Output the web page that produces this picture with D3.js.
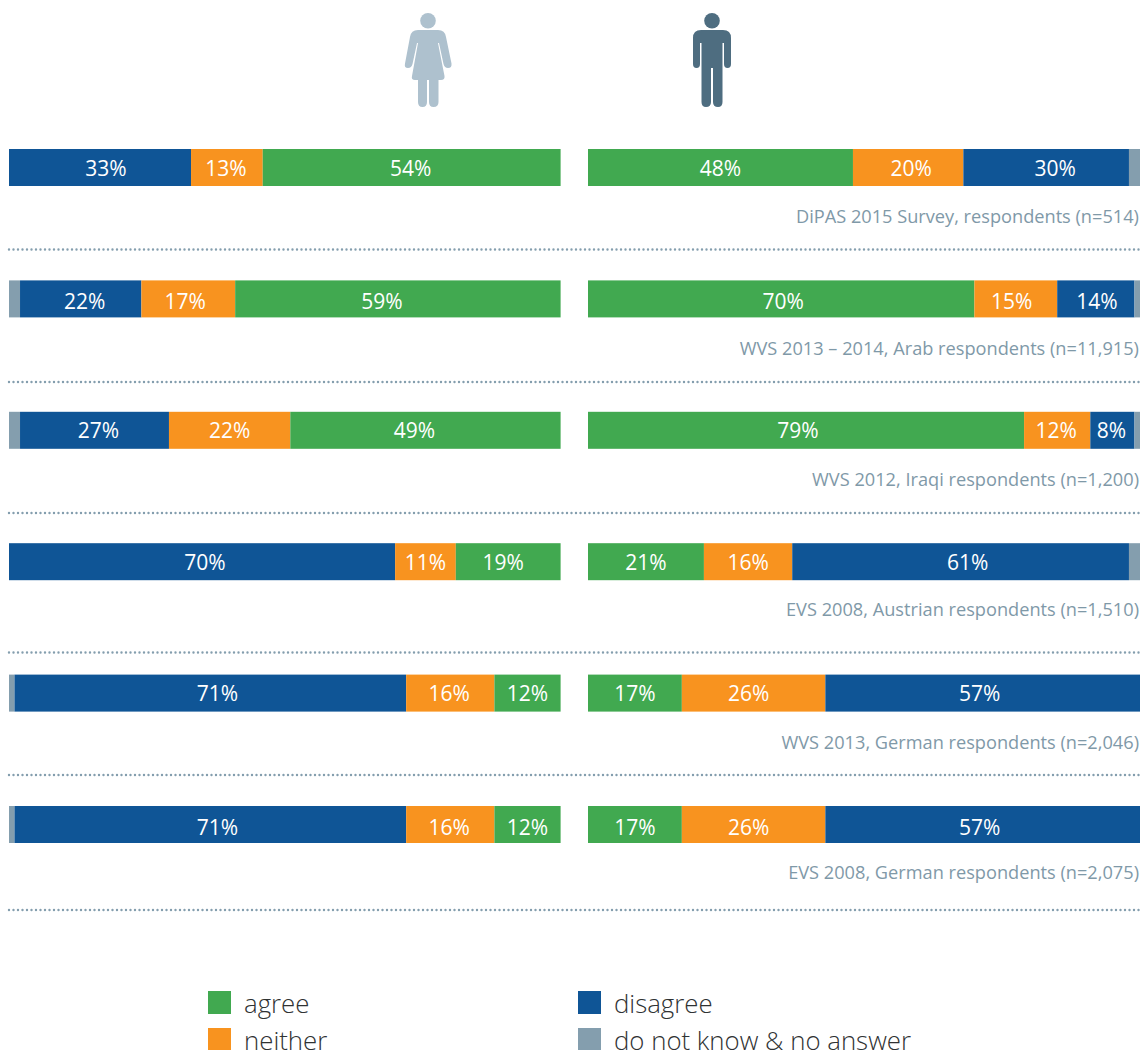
<!DOCTYPE html>
<html><head><meta charset="utf-8">
<script src="https://cdn.jsdelivr.net/npm/d3@7"></script>
<style>html,body{margin:0;padding:0;background:#fff}svg{display:block}text{font-family:"Open Sans","Noto Sans",sans-serif}</style>
</head><body><svg id="c" width="1140" height="1050"></svg>
<script>
const sources=["DiPAS 2015 Survey, respondents (n=514)","WVS 2013 – 2014, Arab respondents (n=11,915)","WVS 2012, Iraqi respondents (n=1,200)","EVS 2008, Austrian respondents (n=1,510)","WVS 2013, German respondents (n=2,046)","EVS 2008, German respondents (n=2,075)"];
const categories=["agree","neither","disagree","dk"];
const legendLabels=["agree","neither","disagree","do not know & no answer"];
const womenAgree=[54,59,49,19,12,12];
const womenNeither=[13,17,22,11,16,16];
const womenDisagree=[33,22,27,70,71,71];
const womenDk=[0,2,2,0,1,1];
const menAgree=[48,70,79,21,17,17];
const menNeither=[20,15,12,16,26,26];
const menDisagree=[30,14,8,61,57,57];
const menDk=[2,1,1,2,0,0];
const colors={agree:"#41a950",neither:"#f8931f",disagree:"#0f5596",dk:"#849eae"};

const svg=d3.select("#c");
const y=d3.scalePoint().domain(d3.range(6)).range([149,806]);
const xW=d3.scaleLinear().domain([0,100]).range([9,560.6]);
const xM=d3.scaleLinear().domain([0,100]).range([588,1140]);
const barH=37;
// layout tweaks: the reference places its labels by hand, not at segment centres
const dividerY=[249.5,382,513,652.5,775,910];
const sourceDy=[73.5,74.5,74.5,72.5,74.5,72.5];
const labelDy=[26.5,28.5,26.5,26.5,26.5,28.5];
const nudgeW={disagree:[6,4,4,3,7,7],neither:[-1,-3,0,0,-1,-1],agree:[-1,-16,-11,-5,0,0]};
const nudgeM={agree:[0,2,-8,0,0,0],neither:[3,-4,-1,0,-5,-5],disagree:[9,1,-1,7,-3,-3]};

function rowsFor(order,vals){
  return d3.range(6).flatMap(i=>{
    let c=0;
    return order.map(k=>{const v=vals[k][i];const s={i,k,v,x0:c,x1:c+v};c+=v;return s;});
  });
}
function panel(rows,x,nudge){
  const g=svg.append("g");
  g.selectAll("rect").data(rows.filter(d=>d.v>0)).join("rect")
    .attr("x",d=>x(d.x0)).attr("width",d=>x(d.x1)-x(d.x0))
    .attr("y",d=>y(d.i)).attr("height",barH).attr("fill",d=>colors[d.k]);
  g.selectAll("text").data(rows.filter(d=>d.v>0&&d.k!=="dk")).join("text")
    .attr("x",d=>(x(d.x0)+x(d.x1))/2+nudge[d.k][d.i]).attr("y",d=>y(d.i)+labelDy[d.i])
    .attr("text-anchor","middle").attr("fill","#fff").attr("font-size",21)
    .text(d=>d.v+"%");
}
panel(rowsFor(["dk","disagree","neither","agree"],{dk:womenDk,disagree:womenDisagree,neither:womenNeither,agree:womenAgree}),xW,nudgeW);
panel(rowsFor(["agree","neither","disagree","dk"],{dk:menDk,disagree:menDisagree,neither:menNeither,agree:menAgree}),xM,nudgeM);

svg.append("g").selectAll("text").data(sources).join("text")
  .attr("x",1139).attr("y",(d,i)=>y(i)+sourceDy[i]).attr("text-anchor","end")
  .attr("fill","#7f99a8").attr("font-size",18.2).text(d=>d);
svg.append("g").selectAll("line").data(dividerY).join("line")
  .attr("x1",9).attr("x2",1140).attr("y1",d=>d).attr("y2",d=>d)
  .attr("stroke","#849eae").attr("stroke-width",2.4).attr("stroke-dasharray","0 4.5").attr("stroke-linecap","round");

// icons
const woman=svg.append("g").attr("fill","#aec1ce");
woman.append("circle").attr("cx",428).attr("cy",20.7).attr("r",7.8);
woman.append("path").attr("d","M418,30 H438 Q445,30 446,37 L451.5,63.5 Q452,68 448,68 Q444.5,68 443.5,64 L439,43 L438,43 L444.5,76 Q445,80 441,80 L438.5,80 L438.5,102 Q438.5,107 433.5,107 Q429,107 429,102 L429,80 L427,80 L427,102 Q427,107 422.5,107 Q418,107 418,102 L418,80 L415,80 Q411,80 412,76 L418,43 L417,43 L412.5,64 Q411.5,68 408,68 Q404,68 405,63.5 L410,37 Q411,30 418,30 Z");
const man=svg.append("g").attr("fill","#4e6d80");
man.append("circle").attr("cx",712).attr("cy",20.7).attr("r",7.8);
man.append("path").attr("d","M701,30 H723 Q731,30 731,38 V64 Q731,68 727.5,68 Q724,68 724,64 V43 H722.5 V102 Q722.5,107 718,107 Q713,107 713,102 V68 H711 V102 Q711,107 706,107 Q701.5,107 701.5,102 V43 H700 V64 Q700,68 696.5,68 Q693,68 693,64 V38 Q693,30 701,30 Z");

// legend
const legX=d3.scalePoint().domain([0,1]).range([208,578]);
const legY=d3.scalePoint().domain([0,1]).range([991,1028]);
const leg=svg.append("g").selectAll("g").data(categories).join("g");
leg.append("rect").attr("x",(d,i)=>legX(i>>1)).attr("y",(d,i)=>legY(i%2)).attr("width",23).attr("height",23).attr("fill",d=>colors[d]);
leg.append("text").attr("x",(d,i)=>legX(i>>1)+36).attr("y",(d,i)=>legY(i%2)+22).attr("font-size",25.8).style("font-weight",300).attr("fill","#2f3233").text((d,i)=>legendLabels[i]);
</script></body></html>
